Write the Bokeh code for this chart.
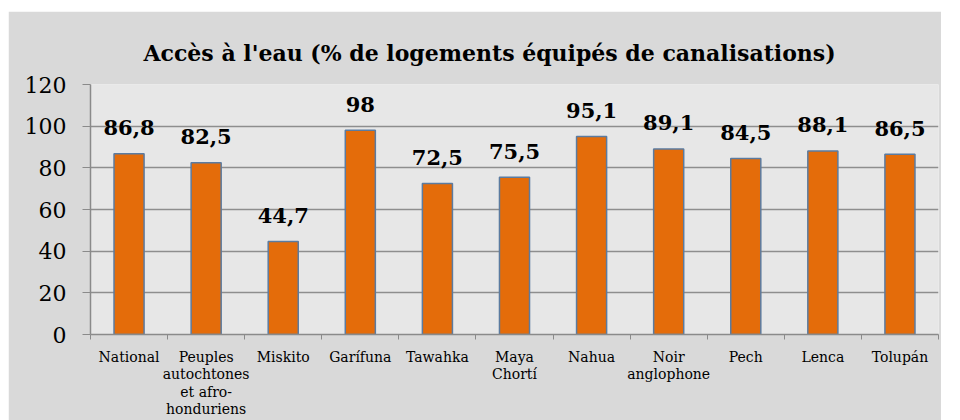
from bokeh.plotting import figure
from bokeh.models import ColumnDataSource, FixedTicker, Range1d, Spacer
from bokeh.layouts import column, row
from bokeh.core.properties import value
from bokeh.embed import file_html
from bokeh.resources import INLINE

categories = ["National", "Peuples\nautochtones\net afro-\nhonduriens", "Miskito", "Garífuna",
              "Tawahka", "Maya\nChortí", "Nahua", "Noir\nanglophone", "Pech", "Lenca", "Tolupán"]
values = [86.8, 82.5, 44.7, 98, 72.5, 75.5, 95.1, 89.1, 84.5, 88.1, 86.5]
value_labels = ["86,8", "82,5", "44,7", "98", "72,5", "75,5", "95,1", "89,1", "84,5", "88,1", "86,5"]
y_ticks = [0, 20, 40, 60, 80, 100, 120]
title_text = "Accès à l'eau (% de logements équipés de canalisations)"

xs = [i + 0.5 for i in range(len(categories))]
bounds = list(range(len(categories) + 1))
src = ColumnDataSource(dict(x=xs, top=values, lab=value_labels))

FONT = "DejaVu Serif"

p = figure(width=933, height=409, output_backend="svg", toolbar_location=None,
           x_range=Range1d(0, len(categories)), y_range=Range1d(0, 120),
           min_border_left=82, min_border_right=3, min_border_top=73, min_border_bottom=85,
           background_fill_color="#e7e7e7", border_fill_color="#d9d9d9",
           outline_line_color=None)

p.title.text = title_text
p.title.align = "left"
p.title.offset = 53
p.title.text_font = FONT
p.title.text_font_size = "22px"
p.title.text_font_style = "bold"
p.title.text_color = "#000000"
p.title.standoff = 37

p.vbar(x="x", top="top", width=0.39, source=src, fill_color="#E46C0A",
       line_color="#5B7BA0", line_width=1.5)
p.text(x="x", y="top", text="lab", source=src, text_align="center",
       text_baseline="alphabetic", y_offset=-26, text_font=value(FONT),
       text_font_size="21px", text_font_style="bold", text_color="#000000")

# y axis
p.yaxis.ticker = FixedTicker(ticks=y_ticks)
p.yaxis.major_label_text_font = FONT
p.yaxis.major_label_text_font_size = "22px"
p.yaxis.major_label_text_color = "#000000"
p.yaxis.axis_line_color = "#8a8a8a"
p.yaxis.axis_line_width = 1.5
p.yaxis.major_tick_line_color = "#8a8a8a"
p.yaxis.major_tick_out = 8
p.yaxis.major_tick_in = 0
p.yaxis.minor_tick_line_color = None
p.yaxis.major_label_standoff = 16

# x axis: labels at category centres, tick marks between categories
p.xaxis.ticker = FixedTicker(ticks=xs, minor_ticks=bounds)
p.xaxis.major_label_overrides = {x: c for x, c in zip(xs, categories)}
p.xaxis.major_label_text_font = FONT
p.xaxis.major_label_text_font_size = "14px"
p.xaxis.major_label_text_color = "#000000"
p.xaxis.major_label_text_line_height = 1.1
p.xaxis.axis_line_color = "#8a8a8a"
p.xaxis.axis_line_width = 1.5
p.xaxis.major_tick_line_color = None
p.xaxis.major_tick_out = 0
p.xaxis.minor_tick_line_color = "#8a8a8a"
p.xaxis.minor_tick_out = 5
p.xaxis.minor_tick_in = 0
p.xaxis.major_label_standoff = 9

p.xgrid.grid_line_color = None
p.ygrid.grid_line_color = "#8e8e8e"
p.ygrid.grid_line_width = 1.5

layout = column(Spacer(height=11, width=941), row(Spacer(width=8, height=409), p, spacing=0), spacing=0)
open("out.html", "w").write(file_html(layout, INLINE))
